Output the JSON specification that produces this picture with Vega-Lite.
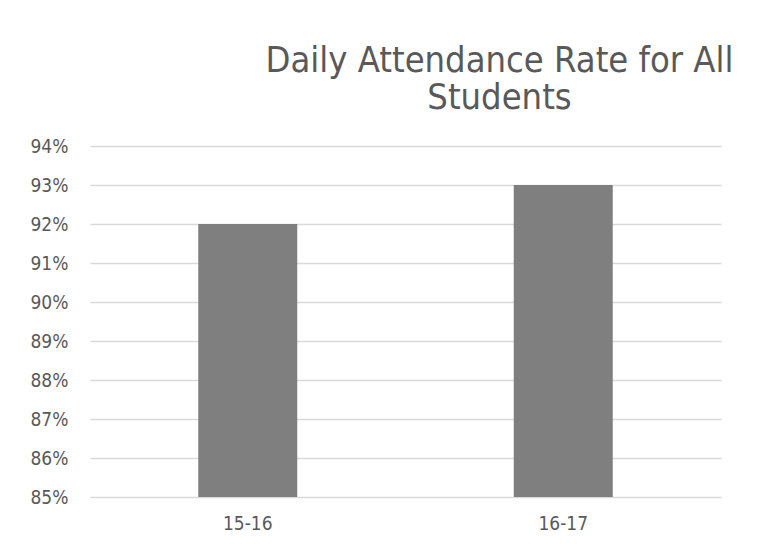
{
  "$schema": "https://vega.github.io/schema/vega-lite/v6.json",
  "width": 631,
  "height": 351,
  "autosize": {"type": "none"},
  "padding": {"left": 90, "top": 146, "right": 37, "bottom": 57},
  "background": "white",
  "data": {"values": [
    {"year": "15-16", "rate": 92},
    {"year": "16-17", "rate": 93}
  ]},
  "title": {
    "text": ["Daily Attendance Rate for All", "Students"],
    "anchor": "middle",
    "dx": 94,
    "offset": 20,
    "fontSize": 36,
    "font": "DejaVu Sans Condensed, sans-serif",
    "fontWeight": "normal",
    "color": "#595959",
    "lineHeight": 37
  },
  "mark": {"type": "bar", "color": "#7f7f7f", "size": 99},
  "encoding": {
    "x": {
      "field": "year",
      "type": "nominal",
      "title": null,
      "scale": {"paddingInner": 0, "paddingOuter": 0},
      "axis": {
        "labelAngle": 0,
        "labelFontSize": 19,
        "labelColor": "#595959",
        "labelFont": "DejaVu Sans Condensed, sans-serif",
        "labelPadding": 17,
        "ticks": false,
        "domain": false
      }
    },
    "y": {
      "field": "rate",
      "type": "quantitative",
      "title": null,
      "scale": {"domain": [85, 94], "zero": false, "nice": false},
      "axis": {
        "values": [85, 86, 87, 88, 89, 90, 91, 92, 93, 94],
        "labelExpr": "datum.value + '%'",
        "labelOverlap": false,
        "labelFontSize": 19,
        "labelColor": "#595959",
        "labelFont": "DejaVu Sans Condensed, sans-serif",
        "labelPadding": 22,
        "ticks": false,
        "domain": false,
        "gridColor": "#d9d9d9",
        "gridWidth": 1.5
      }
    },
    "y2": {"datum": 85}
  },
  "config": {"view": {"stroke": null}}
}
